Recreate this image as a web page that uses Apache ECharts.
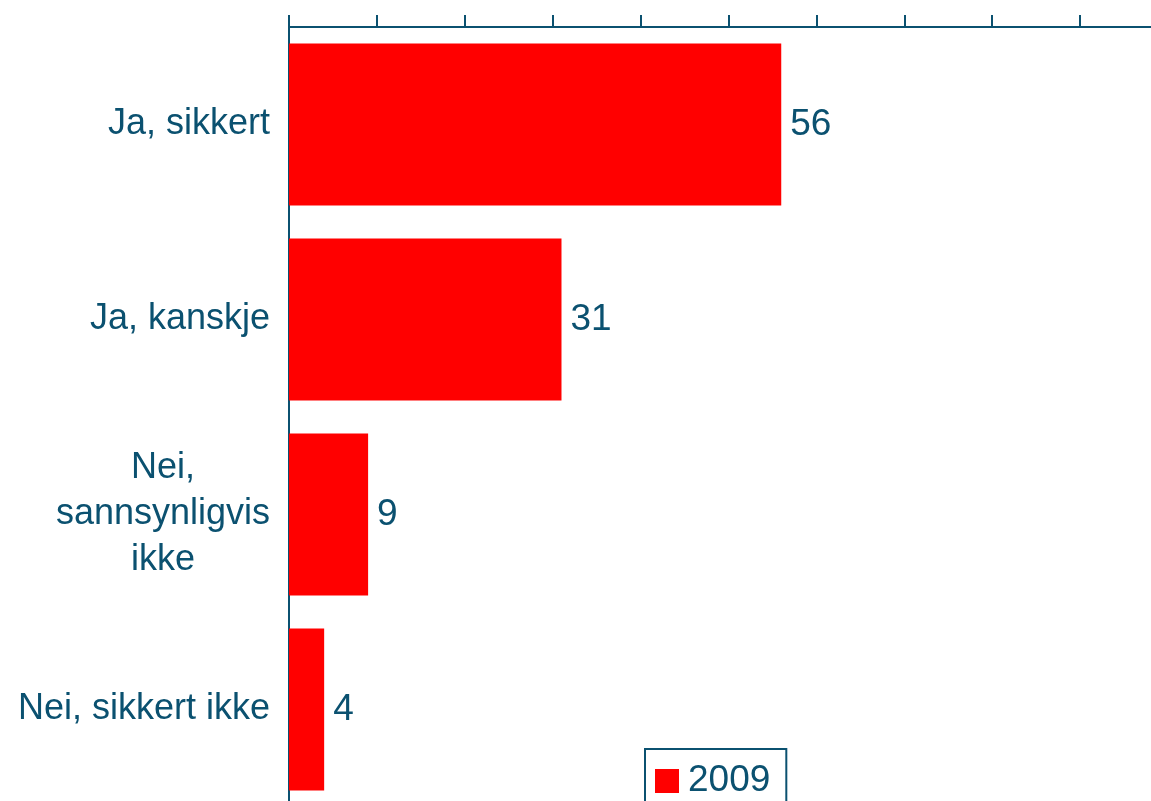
<!DOCTYPE html>
<html>
<head>
<meta charset="utf-8">
<script src="https://cdn.jsdelivr.net/npm/echarts@6/dist/echarts.min.js"></script>
<style>
  html, body { margin: 0; padding: 0; background: #fff; overflow: hidden; }
  /* chart area runs a little past the window on the right and bottom, like the original */
  #main { width: 1168px; height: 807px; }
</style>
</head>
<body>
<div id="main"></div>
<script>
var categories = ['Ja, sikkert', 'Ja, kanskje', 'Nei,\nsannsynligvis\nikke', 'Nei, sikkert ikke'];
var values2009 = [56, 31, 9, 4];
var seriesName = '2009';

var teal = '#0b5170';
var font = "'Liberation Sans', Arial, sans-serif";

var chartDom = document.getElementById('main');
var myChart = echarts.init(chartDom);
var option;

option = {
  textStyle: { fontFamily: font },
  animation: false,
  grid: {
    left: 289,
    right: 0,
    top: 27,
    bottom: 0,
    containLabel: false
  },
  legend: {
    data: [seriesName],
    left: 645,
    top: 749,
    orient: 'horizontal',
    icon: 'rect',
    itemWidth: 24,
    itemHeight: 24,
    borderColor: teal,
    borderWidth: 2,
    padding: [12, 16, 14, 10],
    textStyle: {
      fontSize: 37,
      color: teal,
      fontFamily: font,
      lineHeight: 40,
      padding: [0, 0, 0, 4]
    }
  },
  xAxis: {
    type: 'value',
    position: 'top',
    min: 0,
    max: 100,
    interval: 10,
    axisLine: { show: true, lineStyle: { color: teal, width: 2 } },
    axisTick: { show: true, inside: false, length: 12, lineStyle: { color: teal, width: 2 } },
    axisLabel: { show: false },
    splitLine: { show: false }
  },
  yAxis: {
    type: 'category',
    inverse: true,
    data: categories,
    axisLine: { show: true, lineStyle: { color: teal, width: 2 } },
    axisTick: { show: false },
    axisLabel: {
      margin: 19,
      fontSize: 36,
      color: teal,
      fontFamily: font,
      formatter: function (v) {
        if (v.indexOf('\n') < 0) return v;
        return v.split('\n').map(function (l) { return '{c|' + l + '}'; }).join('\n');
      },
      rich: {
        c: {
          width: 214,
          align: 'center',
          fontSize: 36,
          lineHeight: 46,
          color: teal,
          fontFamily: font
        }
      }
    }
  },
  series: [
    {
      name: seriesName,
      type: 'bar',
      data: values2009,
      barCategoryGap: '17%',
      itemStyle: { color: '#ff0000' },
      label: {
        show: true,
        position: 'right',
        distance: 9,
        fontSize: 37,
        color: teal,
        fontFamily: font
      }
    }
  ]
};

option && myChart.setOption(option);
</script>
</body>
</html>
